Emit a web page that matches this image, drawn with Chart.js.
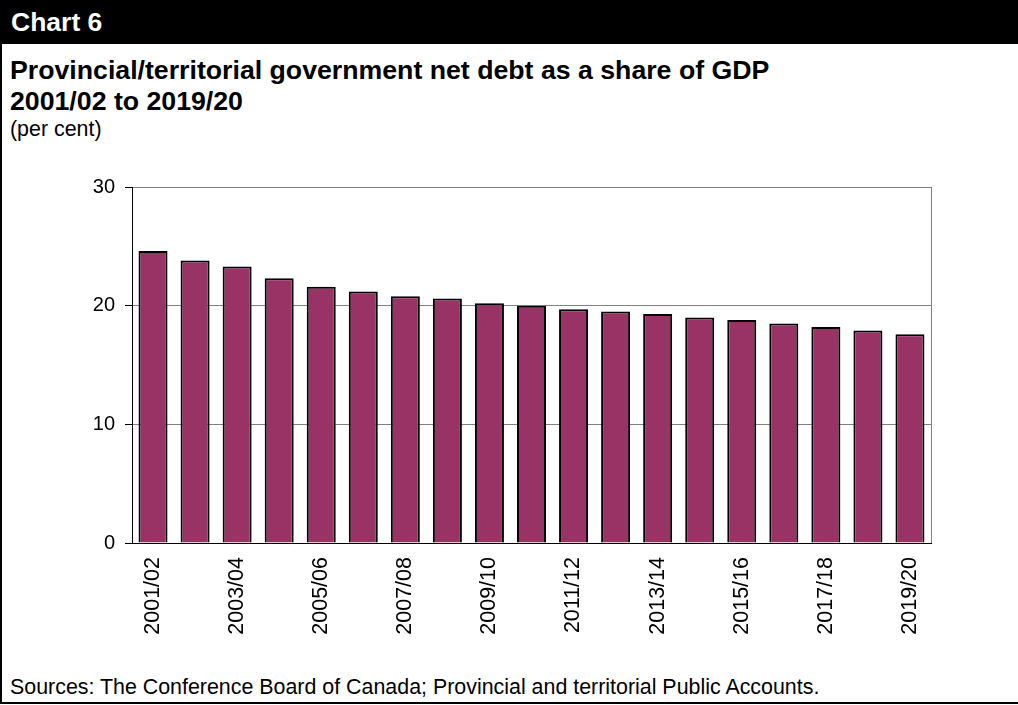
<!DOCTYPE html>
<html>
<head>
<meta charset="utf-8">
<script src="https://cdn.jsdelivr.net/npm/chart.js@4/dist/chart.umd.min.js"></script>
<style>
    html, body { margin: 0; padding: 0; background: #fff; }
    body { width: 1018px; height: 705px; position: relative; overflow: hidden; font-family: Arial, "Liberation Sans", sans-serif; }
    .frame { position: absolute; left: 0; top: 0; width: 1018px; height: 704px; border-left: 2px solid #000; border-bottom: 2px solid #000; box-sizing: border-box; }
    .header { position: absolute; left: 0; top: 0; width: 1018px; height: 44px; background: #000; color: #fff; font-weight: bold; font-size: 26.5px; line-height: 44px; padding-left: 11px; box-sizing: border-box; }
    .title { position: absolute; left: 10px; top: 55px; font-weight: bold; font-size: 26.7px; line-height: 31px; color: #000; }
    .unit { position: absolute; left: 10px; top: 117px; font-size: 21.4px; color: #000; }
    .source { position: absolute; left: 10px; top: 675px; font-size: 21.4px; color: #000; }
    #chartBox { position: absolute; left: 0; top: 165px; width: 960px; height: 495px; }
</style>
</head>
<body>
<div class="frame"></div>
<div class="header">Chart 6</div>
<div class="title">Provincial/territorial government net debt as a share of GDP<br>2001/02 to 2019/20</div>
<div class="unit">(per cent)</div>
<div class="source">Sources: The Conference Board of Canada; Provincial and territorial Public Accounts.</div>
<div id="chartBox"><canvas id="debtChart"></canvas></div>

<script>
// Fiscal years and net debt / GDP (per cent)
const fiscalYears = ['2001/02', '2002/03', '2003/04', '2004/05', '2005/06', '2006/07', '2007/08',
    '2008/09', '2009/10', '2010/11', '2011/12', '2012/13', '2013/14', '2014/15', '2015/16',
    '2016/17', '2017/18', '2018/19', '2019/20'];
const netDebtShare = [24.6, 23.8, 23.3, 22.3, 21.6, 21.2, 20.8, 20.6, 20.2, 20.0,
    19.7, 19.5, 19.3, 19.0, 18.8, 18.5, 18.2, 17.9, 17.6];
const yTicks = [0, 10, 20, 30];

// Right-hand border of the plot area
const plotFrame = {
    id: 'plotFrame',
    afterDraw(chart) {
        const { ctx, chartArea } = chart;
        ctx.save();
        ctx.strokeStyle = '#808080';
        ctx.lineWidth = 1;
        ctx.beginPath();
        ctx.moveTo(chartArea.right + 0.5, chartArea.top);
        ctx.lineTo(chartArea.right + 0.5, chartArea.bottom);
        ctx.stroke();
        ctx.restore();
    }
};

const ctx = document.getElementById('debtChart').getContext('2d');
new Chart(ctx, {
    type: 'bar',
    data: {
        labels: fiscalYears,
        datasets: [{
            data: netDebtShare,
            backgroundColor: '#993366',
            borderColor: '#000',
            borderWidth: 2,
            barPercentage: 0.69,
            categoryPercentage: 1
        }]
    },
    options: {
        responsive: true,
        maintainAspectRatio: false,
        animation: false,
        layout: { padding: { top: 12, right: 29, left: 0, bottom: 0 } },
        plugins: {
            legend: { display: false },
            tooltip: { enabled: false }
        },
        scales: {
            x: {
                grid: { display: false },
                border: { display: true, color: '#000', width: 1 },
                ticks: {
                    autoSkip: false,
                    minRotation: 90,
                    maxRotation: 90,
                    color: '#000',
                    padding: 6,
                    font: { family: 'Arial, "Liberation Sans"', size: 21.5 },
                    callback: (value, i) => (i % 2 === 0 ? fiscalYears[i] : '')
                },
                afterFit(scale) { scale.height = 117; }
            },
            y: {
                min: 0,
                max: 30,
                afterBuildTicks(scale) { scale.ticks = yTicks.map(v => ({ value: v })); },
                grid: { color: '#808080', tickColor: '#000', tickLength: 7, lineWidth: 1 },
                border: { display: true, color: '#000', width: 1 },
                ticks: {
                    color: '#000',
                    padding: 10,
                    font: { family: 'Arial, "Liberation Sans"', size: 20 }
                },
                afterFit(scale) { scale.width = 132; }
            }
        }
    },
    plugins: [plotFrame]
});
</script>
</body>
</html>
